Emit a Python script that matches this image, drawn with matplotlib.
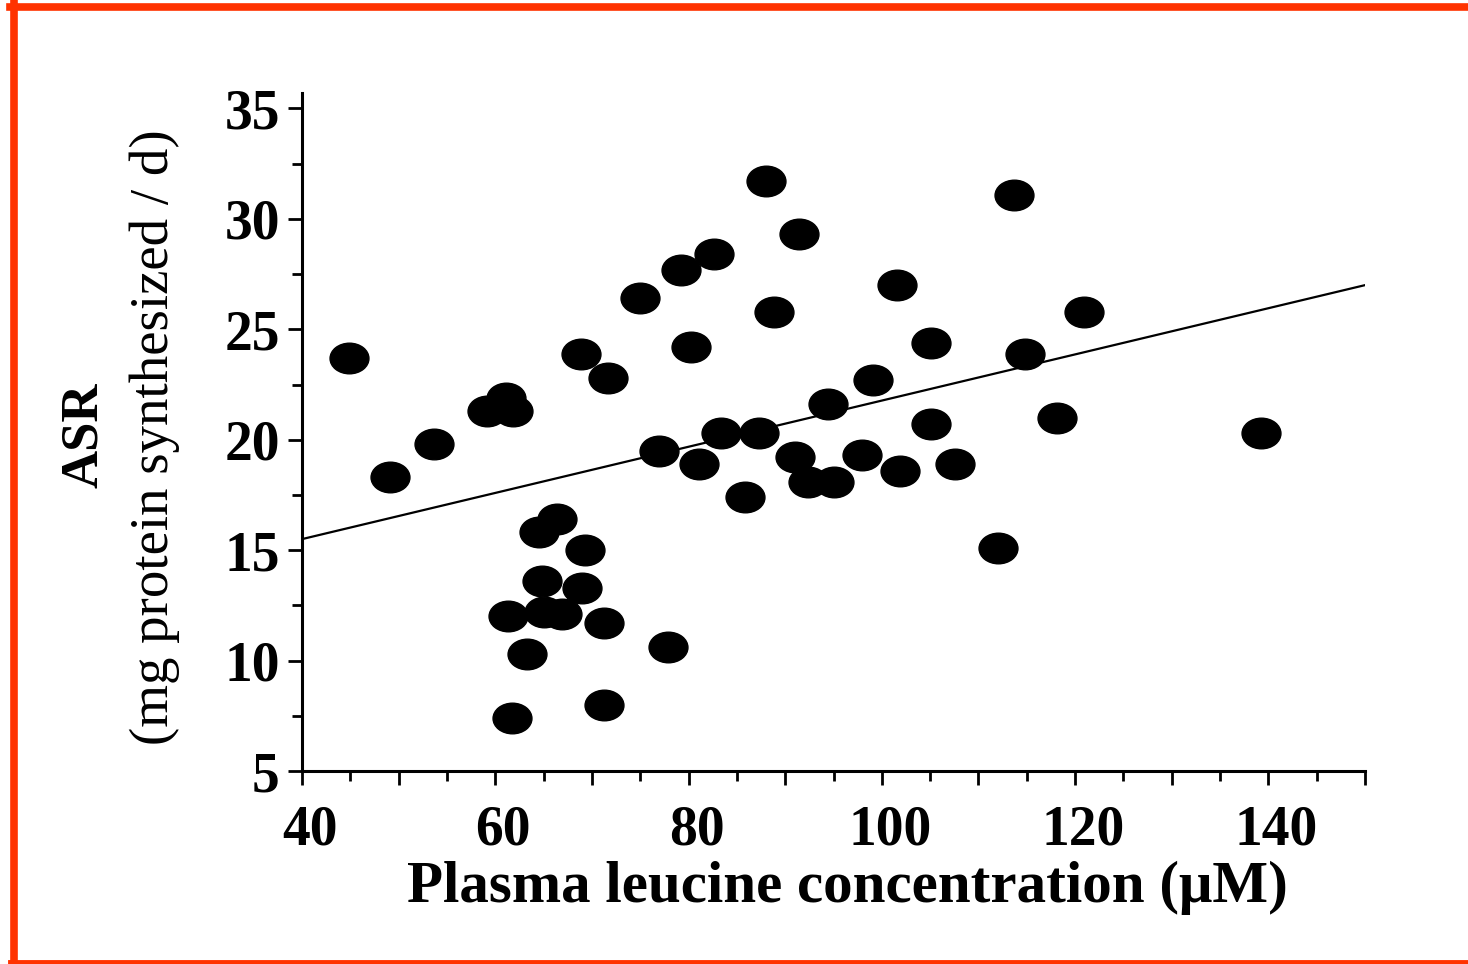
import numpy as np
import matplotlib; matplotlib.use('Agg')
import matplotlib.pyplot as plt
from matplotlib.path import Path
from matplotlib.markers import MarkerStyle
from matplotlib.transforms import Affine2D, ScaledTranslation
from matplotlib.ticker import MultipleLocator
from matplotlib.lines import Line2D

plt.rcParams['font.family'] = ['Liberation Serif', 'DejaVu Serif']

# plasma leucine (uM) vs ASR (mg protein synthesized / d)
leucine = [44.9, 49.1, 53.7, 59.1, 61.1, 61.8, 64.5, 66.4, 69.3, 64.8,
           69.0, 61.3, 65.0, 66.9, 71.3, 63.3, 61.7, 71.3, 68.9, 71.7,
           75.0, 79.2, 82.6, 80.3, 76.9, 81.1, 83.4, 87.3, 85.8, 88.0,
           91.4, 88.8, 91.0, 92.4, 95.0, 94.4, 97.9, 99.1, 101.6, 101.9,
           105.1, 105.1, 107.6, 112.0, 113.7, 114.8, 118.1, 120.9, 139.2, 77.9]
asr = [23.7, 18.3, 19.8, 21.3, 21.9, 21.3, 15.8, 16.4, 15.0, 13.6,
       13.3, 12.0, 12.2, 12.1, 11.7, 10.3, 7.4, 8.0, 23.9, 22.8,
       26.4, 27.7, 28.4, 24.2, 19.5, 18.9, 20.3, 20.3, 17.4, 31.7,
       29.3, 25.8, 19.2, 18.1, 18.1, 21.6, 19.3, 22.7, 27.0, 18.6,
       24.4, 20.7, 18.9, 15.1, 31.1, 23.9, 21.0, 25.8, 20.3, 10.6]
# regression line end points
fit_x = [40, 150]
fit_y = [15.5, 27.0]

W, H = 1468, 964
fig = plt.figure(figsize=(W/100, H/100), dpi=100)
ax = fig.add_axes([302/W, 1-771/H, (1365-302)/W, (771-93)/H])

# wide ellipse marker
ell = MarkerStyle(Path.unit_circle().transformed(Affine2D().scale(1.27, 1.0)))
ax.plot(leucine, asr, ls='none', marker=ell, ms=28, color='black')
ax.plot(fit_x, fit_y, color='black', lw=1.6)

ax.set_xlim(40, 150); ax.set_ylim(5, 35.7)
ax.xaxis.set_minor_locator(MultipleLocator(5))
ax.yaxis.set_minor_locator(MultipleLocator(2.5))
ax.set_xticks(np.arange(40, 151, 10))
ax.set_xticklabels([str(v) if v % 20 == 0 else '' for v in range(40, 151, 10)])
ax.set_yticks(np.arange(5, 36, 5))
for s in ['top', 'right']:
    ax.spines[s].set_visible(False)
for s in ['left', 'bottom']:
    ax.spines[s].set_linewidth(2.2)
ax.tick_params(which='major', direction='out', length=10, width=2, labelsize=40)
ax.tick_params(axis='x', which='major', pad=14)
ax.tick_params(axis='y', which='major', pad=6)
ax.tick_params(which='minor', direction='out', length=7, width=2)
shift = ScaledTranslation(8/100, 0, fig.dpi_scale_trans)
for lab in ax.get_xticklabels():
    lab.set_transform(lab.get_transform() + shift)
for lab in ax.get_xticklabels() + ax.get_yticklabels():
    lab.set_fontweight('bold')

fig.text(0.5775, 1-888/H, 'Plasma leucine concentration (\u03bcM)', ha='center', va='center',
         fontsize=42.5, fontweight='bold')
fig.text(84/W, 1-435/H, 'ASR', rotation=90, ha='center', va='center',
         fontsize=38, fontweight='bold')
fig.text(155/W, 1-437/H, '(mg protein synthesized / d)', rotation=90, ha='center', va='center',
         fontsize=39.5)

# orange frame (left, top, bottom)
red = '#ff3300'
fig.add_artist(Line2D([13.5/W, 13.5/W], [0, 1-3/H], transform=fig.transFigure, color=red, lw=5.5))
fig.add_artist(Line2D([10/W, 1], [1-6.5/H, 1-6.5/H], transform=fig.transFigure, color=red, lw=5.5))
fig.add_artist(Line2D([10/W, 1], [2.5/H, 2.5/H], transform=fig.transFigure, color=red, lw=3.5))

fig.savefig('out.png', dpi=100, facecolor='white')
